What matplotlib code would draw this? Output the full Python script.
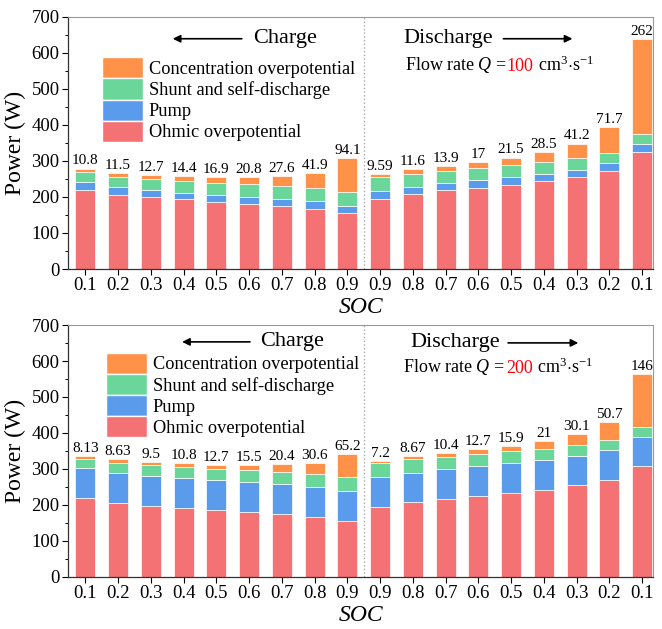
import matplotlib
matplotlib.use("Agg")
import matplotlib.pyplot as plt
from matplotlib.ticker import MultipleLocator
import numpy as np

plt.rcParams["font.family"] = ["Liberation Serif", "DejaVu Serif"]
plt.rcParams["mathtext.fontset"] = "custom"
plt.rcParams["mathtext.rm"] = "Liberation Serif"
plt.rcParams["mathtext.it"] = "Liberation Serif:italic"

soc_labels = ["0.1", "0.2", "0.3", "0.4", "0.5", "0.6", "0.7", "0.8", "0.9",
              "0.9", "0.8", "0.7", "0.6", "0.5", "0.4", "0.3", "0.2", "0.1"]

# Flow rate 100 cm3/s
ohmic_100 = [220, 206, 199, 193, 187, 181, 176, 167, 156,
             194, 209, 218, 226, 234, 244, 256, 273, 326]
pump_100 = [21, 22, 20, 19, 19, 20, 19, 22, 20,
            23, 20, 20, 21, 22, 21, 20, 21, 21]
shunt_100 = [27, 28, 30, 32, 33, 34, 36, 36, 39,
             38, 36, 35, 34, 32, 31, 31, 28, 28]
conc_100 = [10.8, 11.5, 12.7, 14.4, 16.9, 20.8, 27.6, 41.9, 94.1,
            9.59, 11.6, 13.9, 17, 21.5, 28.5, 41.2, 71.7, 262]

# Flow rate 200 cm3/s
ohmic_200 = [220, 206, 198, 192, 186, 181, 175, 168, 156,
             194, 207, 217, 226, 233, 243, 255, 270, 307]
pump_200 = [82, 84, 83, 82, 83, 83, 82, 82, 84,
            84, 83, 83, 82, 83, 83, 82, 83, 83]
shunt_200 = [27, 28, 29, 31, 30, 32, 36, 37, 37,
             38, 37, 33, 35, 33, 30, 30, 28, 27]
conc_200 = [8.13, 8.63, 9.5, 10.8, 12.7, 15.5, 20.4, 30.6, 65.2,
            7.2, 8.67, 10.4, 12.7, 15.9, 21, 30.1, 50.7, 146]

series_names = ["Ohmic overpotential", "Pump", "Shunt and self-discharge",
                "Concentration overpotential"]
colors = ["#F47174", "#5A9BEC", "#6BD69A", "#FF9248"]

fig = plt.figure(figsize=(6.62, 6.29), dpi=100)
ax_top = fig.add_axes([0.1027, 0.5723, 0.884, 0.401])
ax_bot = fig.add_axes([0.1027, 0.0827, 0.884, 0.4006])


def fmt(v):
    return f"{v:g}"


def draw_panel(ax, ohm, pump, shunt, conc, flow, legend_xy, labels_xy):
    x = np.arange(len(soc_labels))
    bottom = np.zeros(len(x))
    handles = []
    for vals, col, name in zip([ohm, pump, shunt, conc], colors, series_names):
        vals = np.asarray(vals, dtype=float)
        b = ax.bar(x, vals, width=0.61, bottom=bottom, color=col,
                   edgecolor="white", linewidth=0.5, label=name)
        handles.append(b)
        bottom = bottom + vals
    for xi, top, c in zip(x, bottom, conc):
        ax.text(xi, top + 3, fmt(c), ha="center", va="bottom", fontsize=11)

    ax.set_xlim(-0.53, 17.34)
    ax.set_ylim(0, 700)
    ax.set_xticks(x)
    ax.set_xticklabels(soc_labels)
    ax.yaxis.set_major_locator(MultipleLocator(100))
    ax.yaxis.set_minor_locator(MultipleLocator(50))
    ax.tick_params(axis="both", which="major", direction="out", length=4,
                   width=0.8, labelsize=13.5, pad=2)
    ax.tick_params(axis="y", which="minor", direction="out", length=2.5, width=0.7)
    for side in ["left", "bottom"]:
        ax.spines[side].set_color("#333333")
        ax.spines[side].set_linewidth(0.9)
    for side in ["top", "right"]:
        ax.spines[side].set_color("#999999")
        ax.spines[side].set_linewidth(0.8)
    ax.axvline(8.5, color="#aaaaaa", linestyle=":", linewidth=1.0)

    ax.set_ylabel("Power (W)", fontsize=17, labelpad=4)
    ax.set_xlabel("SOC", fontsize=17, style="italic", labelpad=2)

    leg = ax.legend(handles[::-1], series_names[::-1], loc="upper left",
                    bbox_to_anchor=legend_xy, frameon=False, fontsize=13.2,
                    handlelength=2.25, handleheight=1.4, labelspacing=0.0,
                    handletextpad=0.3, borderpad=0, borderaxespad=0)
    for p in leg.get_patches():
        p.set_edgecolor("white")
        p.set_linewidth(1.0)

    (cy, cx0, cx1, ctx), (dy, dtx, dx0, dx1), (fy, fx) = labels_xy
    # Charge direction
    ax.annotate("", xy=(cx0, cy), xytext=(cx1, cy), xycoords="axes fraction",
                arrowprops=dict(arrowstyle="-|>", color="black", lw=1.2,
                                mutation_scale=11, shrinkA=0, shrinkB=0))
    ax.text(ctx, cy, "Charge", transform=ax.transAxes, fontsize=16,
            ha="left", va="center")
    # Discharge direction
    ax.text(dtx, dy, "Discharge", transform=ax.transAxes, fontsize=16,
            ha="left", va="center")
    ax.annotate("", xy=(dx1, dy), xytext=(dx0, dy), xycoords="axes fraction",
                arrowprops=dict(arrowstyle="-|>", color="black", lw=1.2,
                                mutation_scale=11, shrinkA=0, shrinkB=0))
    # Flow rate note
    sep = " =" if flow == "100" else " = "
    t1 = ax.text(fx, fy, "Flow rate $\\mathit{Q}$" + sep, transform=ax.transAxes,
                 fontsize=13, ha="left", va="baseline")
    t2 = ax.annotate(flow, xy=(1, 0), xycoords=t1, fontsize=13,
                     color="red", ha="left", va="bottom")
    ax.annotate(" cm$^{3}$$\\cdot$s$^{-1}$", xy=(1, 0), xycoords=t2,
                fontsize=13, ha="left", va="bottom")


draw_panel(ax_top, ohmic_100, pump_100, shunt_100, conc_100, "100",
           legend_xy=(0.058, 0.84),
           labels_xy=((0.913, 0.179, 0.297, 0.316),
                      (0.913, 0.573, 0.744, 0.862),
                      (0.79, 0.576)))
draw_panel(ax_bot, ohmic_200, pump_200, shunt_200, conc_200, "200",
           legend_xy=(0.065, 0.89),
           labels_xy=((0.933, 0.195, 0.311, 0.328),
                      (0.929, 0.585, 0.752, 0.872),
                      (0.815, 0.573)))

fig.savefig("out.png", dpi=100)
